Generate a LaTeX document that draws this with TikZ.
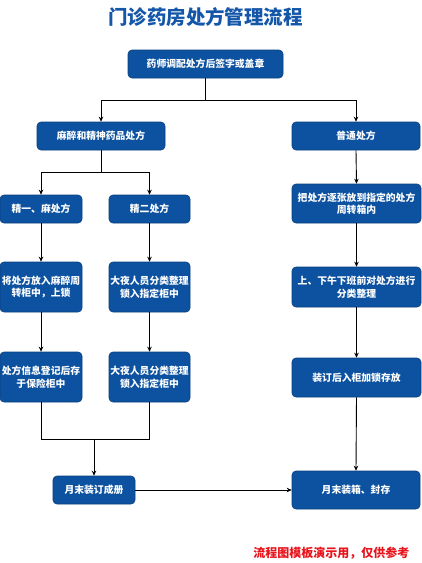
\documentclass[tikz,border=0pt]{standalone}
\usepackage{fontspec}
\setmainfont{Noto Sans CJK SC}
\newfontfamily\cjk{Noto Sans CJK SC}
\usetikzlibrary{arrows.meta}
\definecolor{boxblue}{HTML}{0C52A0}
\definecolor{boxedge}{HTML}{0A3F7E}
\definecolor{titleblue}{HTML}{1456A8}
\definecolor{redtxt}{HTML}{E8141C}
\tikzset{
  flowbox/.style={draw=boxedge, line width=0.6pt, fill=boxblue, rounded corners=4pt,
    text=white, font=\cjk\bfseries\fontsize{9.8}{12.5}\selectfont, align=center,
    inner sep=0pt},
  conn/.style={draw=black, line width=0.9pt},
  arr/.style={conn, -{Stealth[length=5pt,width=4.5pt]}}
}
\begin{document}
\begin{tikzpicture}[x=1pt,y=-1pt]
\useasboundingbox (0,0) rectangle (422,563);
\node[font=\cjk\bfseries\fontsize{19.5}{22}\selectfont, text=titleblue] (title) at (205.5,17) {门诊药房处方管理流程};
\node[flowbox, minimum width=155pt, minimum height=28pt] (b1) at (205.5,64) {药师调配处方后签字或盖章};
\node[flowbox, minimum width=128pt, minimum height=28pt] (mz) at (101,136) {麻醉和精神药品处方};
\node[flowbox, minimum width=128pt, minimum height=28pt] (pt) at (356,136) {普通处方};
\node[flowbox, minimum width=82pt, minimum height=28pt] (j1) at (41,209) {精一、麻处方};
\node[flowbox, minimum width=81pt, minimum height=28pt] (j2) at (149.5,209) {精二处方};
\node[flowbox, minimum width=82pt, minimum height=50pt] (c1) at (41,287) {将处方放入麻醉周\\转柜中，上锁};
\node[flowbox, minimum width=81pt, minimum height=50pt] (c2) at (149.5,287) {大夜人员分类整理\\锁入指定柜中};
\node[flowbox, minimum width=82pt, minimum height=50pt] (d1) at (41,377) {处方信息登记后存\\于保险柜中};
\node[flowbox, minimum width=81pt, minimum height=50pt] (d2) at (149.5,377) {大夜人员分类整理\\锁入指定柜中};
\node[flowbox, minimum width=129pt, minimum height=39pt] (r1) at (356.5,203.5) {把处方逐张放到指定的处方\\周转箱内};
\node[flowbox, minimum width=129pt, minimum height=40pt] (r2) at (356.5,287) {上、下午下班前对处方进行\\分类整理};
\node[flowbox, minimum width=129pt, minimum height=39pt] (r3) at (356.5,377.5) {装订后入柜加锁存放};
\node[flowbox, minimum width=82pt, minimum height=28pt] (e1) at (94,490) {月末装订成册};
\node[flowbox, minimum width=128pt, minimum height=38pt] (e2) at (356,490) {月末装箱、封存};
\node[font=\cjk\bfseries\fontsize{12}{15}\selectfont, text=redtxt, anchor=east] (note) at (413,553) {流程图模板演示用，仅供参考};
% connectors
\coordinate (s1) at (205.5,100);
\draw[conn] (b1.south) -- (s1);
\draw[arr] (s1) -| (mz.north);
\draw[arr] (s1) -| (pt.north);
\coordinate (s2) at (101,172);
\draw[conn] (mz.south) -- (s2);
\draw[arr] (s2) -| (j1.north);
\draw[arr] (s2) -| (j2.north);
\draw[arr] (j1.south) -- (c1.north);
\draw[arr] (c1.south) -- (d1.north);
\draw[arr] (j2.south) -- (c2.north);
\draw[arr] (c2.south) -- (d2.north);
\coordinate (s3) at (94,439);
\draw[conn] (d1.south) |- (s3);
\draw[conn] (d2.south) |- (s3);
\draw[arr] (s3) -- (e1.north);
\draw[arr] (e1.east) -- (e2.west);
\draw[arr] (pt.south) -- (r1.north);
\draw[arr] (r1.south) -- (r2.north);
\draw[arr] (r2.south) -- (r3.north);
\draw[arr] (r3.south) -- (e2.north);
\end{tikzpicture}
\end{document}
